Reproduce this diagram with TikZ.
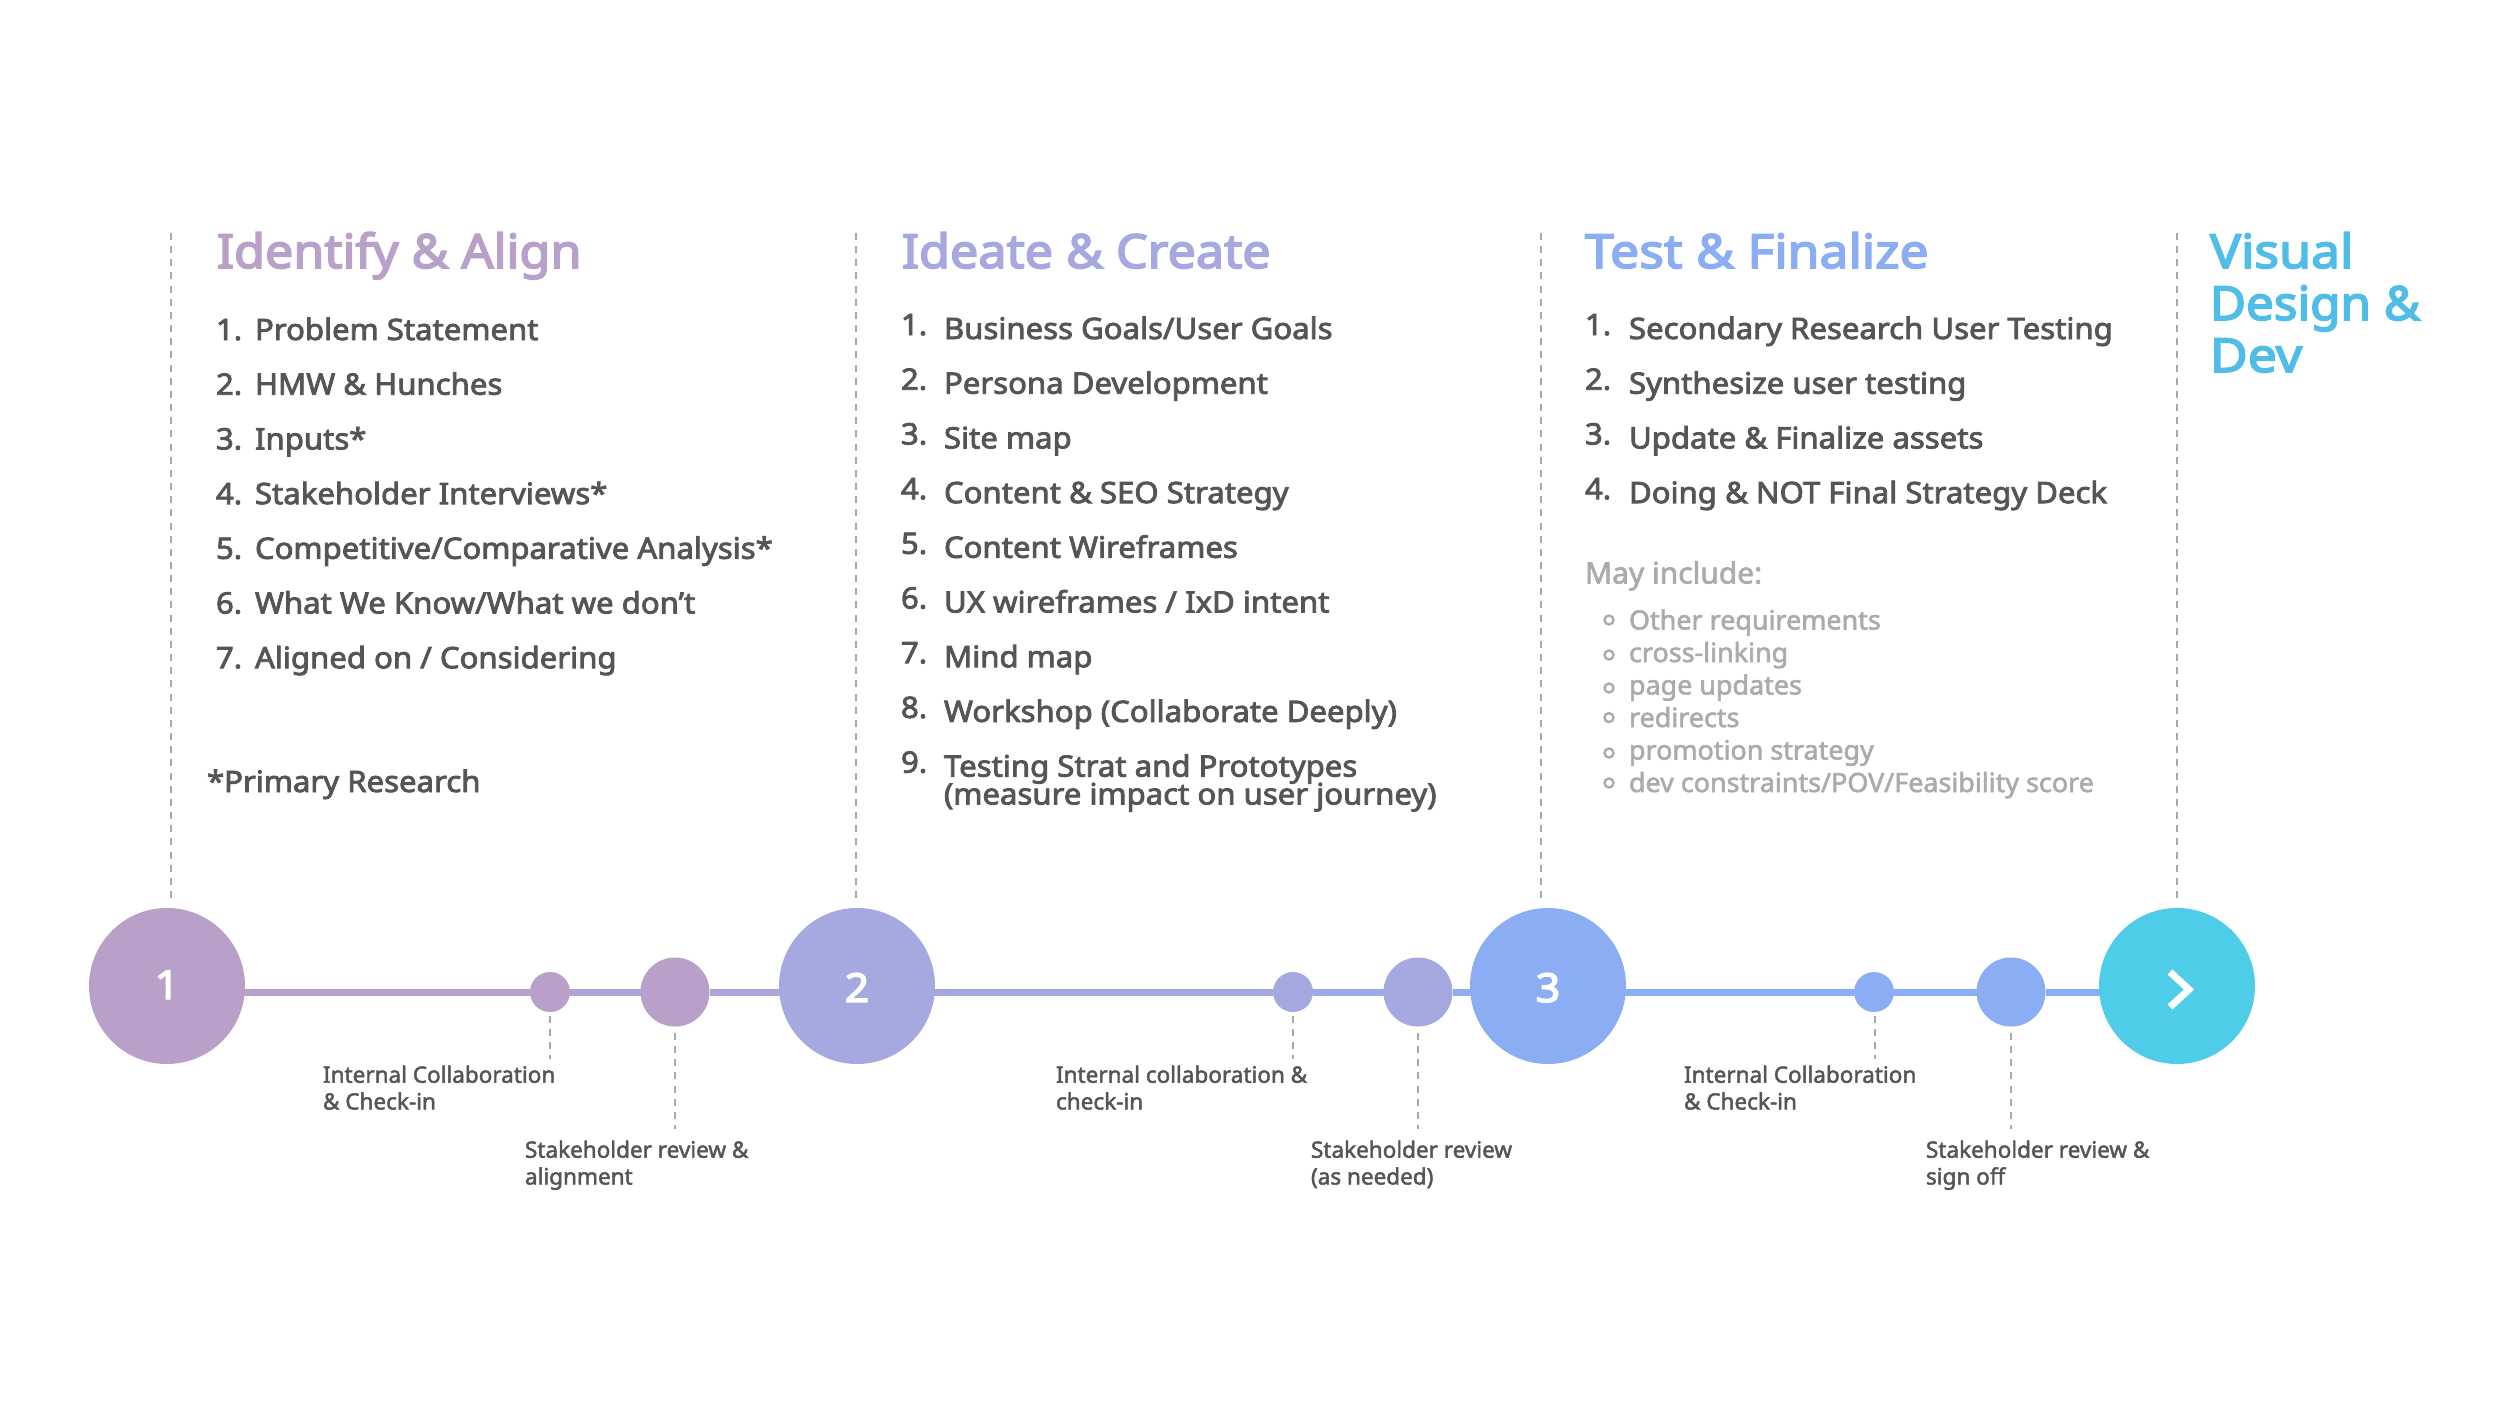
\documentclass[tikz,border=0pt]{standalone}
\usepackage{fontspec}
\usetikzlibrary{backgrounds}
\setmainfont{Noto Sans}
\newfontfamily\fhead{Noto Sans}[FakeBold=3.5,FakeStretch=1.07]
\newfontfamily\fheadw{Noto Sans}[FakeBold=3.5,FakeStretch=1.10]
\newfontfamily\fheadn{Noto Sans}[FakeBold=3.5,FakeStretch=1.05]
\newfontfamily\fitem{Noto Sans}[FakeBold=2.8,FakeStretch=1.055]
\newfontfamily\fsoft{Noto Sans}[FakeBold=2.2,FakeStretch=1.015]
\newfontfamily\fsmall{Noto Sans}[FakeBold=2]
\definecolor{cA}{HTML}{B9A0C9}
\definecolor{cB}{HTML}{A5A9E0}
\definecolor{cC}{HTML}{8AADF4}
\definecolor{cD}{HTML}{4FCCE8}
\definecolor{hD}{HTML}{4FBDE8}
\definecolor{ink}{HTML}{555558}
\definecolor{soft}{HTML}{ABABAD}
\definecolor{dashc}{HTML}{A8A8A8}
\tikzset{
  txt/.style={anchor=base west,inner sep=0pt,outer sep=0pt},
  headtxt/.style={txt,font=\fhead\fontsize{47}{52}\selectfont},
  headwide/.style={txt,font=\fheadw\fontsize{47}{52}\selectfont},
  headnarrow/.style={txt,font=\fheadn\fontsize{47}{52}\selectfont},
  itemtxt/.style={txt,text=ink,font=\fitem\fontsize{29.5}{27}\selectfont},
  softhead/.style={txt,text=soft,font=\fsoft\fontsize{29.5}{36}\selectfont},
  softtxt/.style={txt,text=soft,font=\fsoft\fontsize{26.5}{32}\selectfont},
  smalltxt/.style={txt,text=ink,align=left,font=\fsmall\fontsize{22.5}{26.8}\selectfont},
  bigdot/.style={circle,minimum size=156pt,inner sep=0pt,outer sep=0pt},
  middot/.style={circle,minimum size=69pt,inner sep=0pt,outer sep=0pt},
  smalldot/.style={circle,minimum size=40pt,inner sep=0pt,outer sep=0pt},
  ring/.style={circle,draw=soft,line width=2.4pt,minimum size=9pt,inner sep=0pt},
  digit/.style={anchor=base,inner sep=0pt,text=white,font=\fhead\fontsize{40}{44}\selectfont},
  guide/.style={dashc,line width=1.6pt,dash pattern=on 7pt off 6.16pt},
  track/.style={line width=7pt}
}
\begin{document}
\begin{tikzpicture}[x=1pt,y=-1pt]
\useasboundingbox (0,0) rectangle (2500,1406);
% main circles
\node[bigdot,fill=cA] (c1) at (167,986) {};
\node[bigdot,fill=cB] (c2) at (857,986) {};
\node[bigdot,fill=cC] (c3) at (1548,986) {};
\node[bigdot,fill=cD] (c4) at (2177,986) {};
\node[smalldot,fill=cA] (s1) at (550,992) {};
\node[middot,fill=cA] (m1) at (675,992) {};
\node[smalldot,fill=cB] (s2) at (1293,992) {};
\node[middot,fill=cB] (m2) at (1418,992) {};
\node[smalldot,fill=cC] (s3) at (1874,992) {};
\node[middot,fill=cC] (m3) at (2011,992) {};
\node[digit] (n1) at (167,999) {1};
\node[digit] (n2) at (857,1002) {2};
\node[digit] (n3) at (1548,1002) {3};
\draw[white,line width=7pt] (2170,972) -- (2189,989.5) -- (2170,1007);
% tracks
\begin{scope}[on background layer]
\fill[white] (0,0) rectangle (2500,1406);
\draw[track,cA!85!cB] (c1.center |- s1) -- (s1);
\draw[track,cA!45!cB] (s1) -- (m1);
\draw[track,cA!25!cB] (m1) -- (c2.center |- m1);
\draw[track,cB] (c2.center |- s2) -- (s2);
\draw[track,cB!60!cC] (s2) -- (m2);
\draw[track,cB!35!cC] (m2) -- (c3.center |- m2);
\draw[track,cC] (c3.center |- s3) -- (s3);
\draw[track,cC] (s3) -- (m3);
\draw[track,cC] (m3) -- (c4.center |- m3);
\end{scope}
% vertical guides
\coordinate (g1) at (171,233);
\coordinate (g2) at (856,233);
\coordinate (g3) at (1541,233);
\coordinate (g4) at (2177,233);
\coordinate (e1) at (171,898);
\coordinate (e2) at (856,898);
\coordinate (e3) at (1541,898);
\coordinate (e4) at (2177,898);
\draw[guide] (g1) -- (e1);
\draw[guide] (g2) -- (e2);
\draw[guide] (g3) -- (e3);
\draw[guide] (g4) -- (e4);
% check-in labels
\node[smalltxt] (l1) at (323,1109.5) {Internal Collaboration\\\& Check-in};
\node[smalltxt] (l2) at (525,1184.5) {Stakeholder review \&\\alignment};
\node[smalltxt] (l3) at (1056,1109.5) {Internal collaboration \&\\check-in};
\node[smalltxt] (l4) at (1311,1184.5) {Stakeholder review\\(as needed)};
\node[smalltxt] (l5) at (1684,1109.5) {Internal Collaboration\\\& Check-in};
\node[smalltxt] (l6) at (1926,1184.5) {Stakeholder review \&\\sign off};
% check-in guides
\coordinate (a1) at (550,1016); \coordinate (b1) at (550,1059);
\coordinate (a2) at (675,1033); \coordinate (b2) at (675,1129);
\coordinate (a3) at (1293,1016); \coordinate (b3) at (1293,1059);
\coordinate (a4) at (1418,1033); \coordinate (b4) at (1418,1129);
\coordinate (a5) at (1875,1016); \coordinate (b5) at (1875,1059);
\coordinate (a6) at (2011,1033); \coordinate (b6) at (2011,1129);
\draw[guide] (a1) -- (b1);
\draw[guide] (a2) -- (b2);
\draw[guide] (a3) -- (b3);
\draw[guide] (a4) -- (b4);
\draw[guide] (a5) -- (b5);
\draw[guide] (a6) -- (b6);
% headings
\node[headtxt,text=cA] (h1) at (217,268) {Identify \& Align};
\node[headtxt,text=cB] (h2) at (902,268) {Ideate \& Create};
\node[headwide,text=cC] (h3) at (1585,268) {Test \& Finalize};
\node[headwide,text=hD] (h4a) at (2210,268) {Visual};
\node[headnarrow,text=hD] (h4b) at (2210,320) {Design \&};
\node[headwide,text=hD] (h4c) at (2210,372) {Dev};
% column 1
\foreach \i/\t [count=\k from 0] in {1/Problem Statement,2/HMW \& Hunches,3/Inputs*,4/Stakeholder Interviews*,5/{Competitive/Comparative Analysis*},6/{What We Know/What we don’t},7/{Aligned on / Considering}}{
  \node[itemtxt] (pa\i) at (216,340+54.7*\k) {\i.};
  \node[itemtxt] (ta\i) at (255,340+54.7*\k) {\t};
}
\node[itemtxt] (prim) at (207,792) {*Primary Research};
% column 2
\foreach \i/\t [count=\k from 0] in {1/{Business Goals/User Goals},2/Persona Development,3/Site map,4/Content \& SEO Strategy,5/Content Wireframes,6/{UX wireframes / IxD intent},7/Mind map,8/Workshop (Collaborate Deeply),9/Testing Strat and Prototypes}{
  \node[itemtxt] (pb\i) at (901,335+54.7*\k) {\i.};
  \node[itemtxt] (tb\i) at (944,339+54.7*\k) {\t};
}
\node[itemtxt] (tb9b) at (944,804.5) {(measure impact on user journey)};
% column 3
\foreach \i/\t [count=\k from 0] in {1/Secondary Research User Testing,2/Synthesize user testing,3/Update \& Finalize assets,4/Doing \& NOT Final Strategy Deck}{
  \node[itemtxt] (pc\i) at (1585,335+54.7*\k) {\i.};
  \node[itemtxt] (tc\i) at (1629,339+54.7*\k) {\t};
}
\node[softhead] (may) at (1585,583.5) {May include:};
\foreach \i/\y/\r/\t in {1/629.5/620/Other requirements,2/662/655/cross-linking,3/694.5/688/page updates,4/727/717.6/redirects,5/759.5/753/promotion strategy,6/792/783/{dev constraints/POV/Feasibility score}}{
  \node[ring] (r\i) at (1609,\r) {};
  \node[softtxt] (o\i) at (1629,\y) {\t};
}
\end{tikzpicture}
\end{document}
